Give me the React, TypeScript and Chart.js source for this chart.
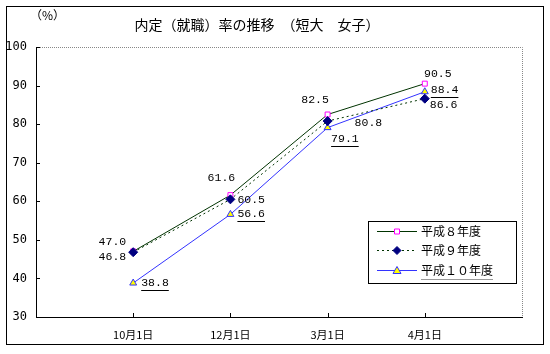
import React, { useEffect, useRef } from "react";
import { Chart, registerables } from "chart.js";

Chart.register(...registerables);

const categories = ["10月1日", "12月1日", "3月1日", "4月1日"];
const seriesNames = ["平成８年度", "平成９年度", "平成１０年度"];
const h8 = [47.0, 61.6, 82.5, 90.5];
const h9 = [46.8, 60.5, 80.8, 86.6];
const h10 = [38.8, 56.6, 79.1, 88.4];
const yTicks = [30, 40, 50, 60, 70, 80, 90, 100];

const titleText = "内定（就職）率の推移　（短大　女子）";
const unitText = "（%）";

// label placement per series/point: [dx, dy, align]
const labelPlacement: [number, number, CanvasTextAlign][][] = [
  [[-7, -9.5, "right"], [-9, -17, "center"], [-12.5, -14.5, "center"], [13, -10, "center"]],
  [[-7, 5, "right"], [7, 1, "left"], [27, 2, "left"], [5, 6, "left"]],
  [[8, 0, "left"], [7, 0, "left"], [3.5, 11, "left"], [6, -2, "left"]],
];

const pad = (arr: any[]) => [null, ...arr, null];

const LABEL_FONT = "11.5px 'Liberation Mono', 'DejaVu Sans Mono', monospace";
const CJK = "'Noto Sans CJK JP', sans-serif";

export default function App() {
  const ref = useRef<HTMLCanvasElement | null>(null);

  useEffect(() => {
    document.body.style.margin = "0";
    const canvas = ref.current!;
    const styles = [
      { color: "#003300", dash: [] as number[], point: "rect", bg: "#ffffff", border: "#ff00ff", r: 3.5 },
      { color: "#003300", dash: [2, 3], point: "rectRot", bg: "#000080", border: "#000080", r: 4.5 },
      { color: "#3333ff", dash: [] as number[], point: "triangle", bg: "#ffff00", border: "#3333ff", r: 4 },
    ];
    const values = [h8, h9, h10];
    const orders = [1, 0, 2];

    const decor = {
      id: "decor",
      afterDraw(chart: any) {
        const ctx = chart.ctx as CanvasRenderingContext2D;
        const ca = chart.chartArea;
        const xs = chart.scales.x;
        const ys = chart.scales.y;
        ctx.save();
        // outer frame
        ctx.strokeStyle = "#000";
        ctx.lineWidth = 1;
        ctx.strokeRect(6.5, 6.5, 537, 338);
        // title
        ctx.fillStyle = "#000";
        ctx.font = "14px " + CJK;
        ctx.textAlign = "center";
        ctx.textBaseline = "middle";
        ctx.fillText(titleText, 257, 25);
        ctx.font = "12px " + CJK;
        ctx.textAlign = "left";
        ctx.fillText(unitText, 30, 15);
        // plot border: top & right dotted gray
        ctx.strokeStyle = "#888";
        ctx.setLineDash([1, 1]);
        ctx.beginPath();
        ctx.moveTo(ca.left, Math.round(ca.top) + 0.5);
        ctx.lineTo(Math.round(ca.right) + 0.5, Math.round(ca.top) + 0.5);
        ctx.lineTo(Math.round(ca.right) + 0.5, ca.bottom);
        ctx.stroke();
        ctx.setLineDash([]);
        // left & bottom solid black
        ctx.strokeStyle = "#000";
        ctx.beginPath();
        ctx.moveTo(Math.round(ca.left) + 0.5, Math.round(ca.top));
        ctx.lineTo(Math.round(ca.left) + 0.5, Math.round(ca.bottom) + 0.5);
        ctx.lineTo(Math.round(ca.right) + 1, Math.round(ca.bottom) + 0.5);
        ctx.stroke();
        // y ticks
        ctx.beginPath();
        yTicks.forEach((v) => {
          const y = Math.round(ys.getPixelForValue(v)) + 0.5;
          ctx.moveTo(ca.left, y);
          ctx.lineTo(ca.left + 4, y);
        });
        // x ticks
        categories.forEach((_, i) => {
          const x = Math.round(xs.getPixelForValue(i + 1)) + 0.5;
          ctx.moveTo(x, ca.bottom);
          ctx.lineTo(x, ca.bottom - 4);
        });
        ctx.stroke();

        // data labels
        ctx.font = LABEL_FONT;
        ctx.textBaseline = "middle";
        values.forEach((arr, si) => {
          arr.forEach((v, i) => {
            const px = xs.getPixelForValue(i + 1);
            const py = ys.getPixelForValue(v);
            const [dx, dy, align] = labelPlacement[si][i];
            const txt = v.toFixed(1);
            const x = px + dx;
            const y = py + dy;
            ctx.textAlign = align;
            ctx.fillStyle = "#000";
            ctx.fillText(txt, x, y);
            if (si === 2) {
              const w = ctx.measureText(txt).width;
              const x0 = align === "left" ? x : align === "right" ? x - w : x - w / 2;
              ctx.strokeStyle = "#000";
              ctx.lineWidth = 1;
              ctx.beginPath();
              ctx.moveTo(x0, Math.round(y + 7) + 0.5);
              ctx.lineTo(x0 + w, Math.round(y + 7) + 0.5);
              ctx.stroke();
            }
          });
        });

        // legend
        const lx = 368.5, ly = 221.5, lw = 148, lh = 62;
        ctx.fillStyle = "#fff";
        ctx.fillRect(lx, ly, lw, lh);
        ctx.strokeStyle = "#000";
        ctx.lineWidth = 1;
        ctx.strokeRect(lx, ly, lw, lh);
        const rows = [231.5, 250.5, 270.5];
        seriesNames.forEach((name, si) => {
          const st = styles[si];
          const y = rows[si];
          ctx.strokeStyle = st.color;
          ctx.setLineDash(st.dash);
          ctx.beginPath();
          ctx.moveTo(377, y);
          ctx.lineTo(417, y);
          ctx.stroke();
          ctx.setLineDash([]);
          ctx.fillStyle = st.bg;
          ctx.strokeStyle = st.border;
          const mx = 397, my = y;
          ctx.beginPath();
          if (st.point === "rect") {
            ctx.rect(mx - 2.5, my - 2.5, 5, 5);
          } else if (st.point === "rectRot") {
            ctx.moveTo(mx, my - 4);
            ctx.lineTo(mx + 4, my);
            ctx.lineTo(mx, my + 4);
            ctx.lineTo(mx - 4, my);
            ctx.closePath();
          } else {
            ctx.moveTo(mx, my - 4);
            ctx.lineTo(mx + 4, my + 3);
            ctx.lineTo(mx - 4, my + 3);
            ctx.closePath();
          }
          ctx.fill();
          ctx.stroke();
          ctx.fillStyle = "#000";
          ctx.font = "12px " + CJK;
          ctx.textAlign = "left";
          ctx.textBaseline = "middle";
          ctx.fillText(name, 421, y);
          if (si === 2) {
            const w = ctx.measureText(name).width;
            ctx.strokeStyle = "#999";
            ctx.beginPath();
            ctx.moveTo(421, Math.round(y + 8) + 0.5);
            ctx.lineTo(421 + w, Math.round(y + 8) + 0.5);
            ctx.stroke();
          }
        });
        ctx.restore();
      },
    };

    const chart = new Chart(canvas, {
      type: "line",
      data: {
        labels: pad(categories),
        datasets: values.map((arr, si) => ({
          label: seriesNames[si],
          data: pad(arr),
          order: orders[si],
          borderColor: styles[si].color,
          borderWidth: 1,
          borderDash: styles[si].dash,
          pointStyle: styles[si].point as any,
          pointRadius: styles[si].r,
          pointBackgroundColor: styles[si].bg,
          pointBorderColor: styles[si].border,
          pointBorderWidth: 1,
          fill: false,
          tension: 0,
          spanGaps: false,
        })),
      },
      options: {
        animation: false,
        responsive: false,
        devicePixelRatio: 1,
        layout: { padding: { top: 47, right: 28, left: 0, bottom: 0 } },
        plugins: { legend: { display: false }, title: { display: false }, tooltip: { enabled: false } },
        events: [],
        scales: {
          x: {
            type: "category",
            offset: false,
            grid: { display: false, drawTicks: false },
            border: { display: false },
            ticks: {
              autoSkip: false,
              maxRotation: 0,
              padding: 11,
              color: "#000",
              font: { family: "'Noto Sans CJK JP', sans-serif", size: 11 },
            },
            afterFit: (s: any) => {
              s.height = 37;
            },
          },
          y: {
            min: 30,
            max: 100,
            grid: { display: false, drawTicks: false },
            border: { display: false },
            ticks: {
              stepSize: 10,
              padding: 9,
              color: "#000",
              font: { family: "'DejaVu Sans Mono', monospace", size: 12 },
            },
            afterFit: (s: any) => {
              s.width = 36;
            },
          },
        },
      },
      plugins: [decor],
    });
    return () => chart.destroy();
  }, []);

  return (
    <div style={{ width: 550, height: 354 }}>
      <canvas ref={ref} width={550} height={354} style={{ display: "block" }} />
    </div>
  );
}
